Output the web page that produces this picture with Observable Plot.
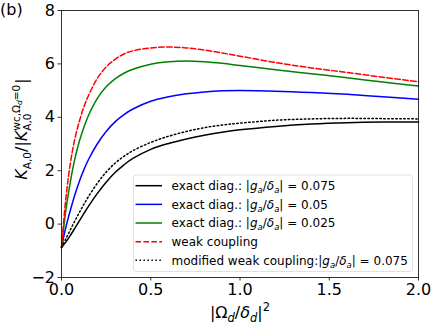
<!DOCTYPE html>
<html><head><meta charset="utf-8">
<script src="https://cdn.jsdelivr.net/npm/d3@7"></script>
<script src="https://cdn.jsdelivr.net/npm/@observablehq/plot@0.6"></script>
<style>body{margin:0;background:#fff;} svg{display:block;}</style>
</head><body><div id="chart"></div>
<script>
const xs = [0, 0.025, 0.05, 0.075, 0.1, 0.125, 0.15, 0.2, 0.25, 0.3, 0.35, 0.4, 0.5, 0.6, 0.7, 0.8, 0.9, 1.0, 1.2, 1.4, 1.6, 1.8, 2.0];
const exact075 = [-0.88, -0.665, -0.417, -0.152, 0.12, 0.39, 0.653, 1.14, 1.57, 1.93, 2.22, 2.46, 2.80, 3.02, 3.19, 3.33, 3.44, 3.53, 3.66, 3.75, 3.80, 3.82, 3.82];
const exact05 = [-0.88, -0.1, 0.53, 1.1, 1.6, 2.03, 2.4, 3.0, 3.47, 3.83, 4.1, 4.31, 4.6, 4.77, 4.88, 4.95, 4.99, 5.0, 4.98, 4.93, 4.86, 4.77, 4.68];
const exact025 = [-0.88, 0.55, 1.6, 2.45, 3.1, 3.62, 4.05, 4.7, 5.14, 5.44, 5.65, 5.8, 5.99, 6.08, 6.11, 6.08, 6.02, 5.94, 5.78, 5.63, 5.48, 5.32, 5.17];
const weak = [-0.88, 1.0, 2.3, 3.2, 3.85, 4.38, 4.8, 5.45, 5.88, 6.17, 6.37, 6.49, 6.6, 6.63, 6.6, 6.52, 6.41, 6.29, 6.05, 5.85, 5.68, 5.5, 5.33];
const modWeak = [-0.88, -0.543, -0.207, 0.121, 0.436, 0.736, 1.019, 1.524, 1.946, 2.28, 2.54, 2.75, 3.06, 3.29, 3.47, 3.61, 3.71, 3.78, 3.89, 3.94, 3.96, 3.95, 3.94];
const xTicks = [0, 0.5, 1.0, 1.5, 2.0];
const yTicks = [-2, 0, 2, 4, 6, 8];

const seriesDefs = [
  {values: exact075, color: "#000000", dash: null, label: "exact diag.: ", g: "0.075"},
  {values: exact05, color: "#0000ff", dash: null, label: "exact diag.: ", g: "0.05"},
  {values: exact025, color: "#008000", dash: null, label: "exact diag.: ", g: "0.025"},
  {values: weak, color: "#ff0000", dash: "5.55,2.4", label: "weak coupling", g: null},
  {values: modWeak, color: "#000000", dash: "1.5,2.475", label: "modified weak coupling:", g: "0.075"}
];

const marks = [];
for (const s of seriesDefs) {
  const data = xs.map((x, i) => ({x, y: s.values[i]}));
  marks.push(Plot.line(data, {x: "x", y: "y", stroke: s.color, strokeWidth: 1.5, strokeDasharray: s.dash, curve: "catmull-rom"}));
}

const chart = Plot.plot({
  width: 436, height: 325,
  marginLeft: 61, marginRight: 18, marginTop: 10, marginBottom: 48,
  style: {fontFamily: "DejaVu Sans", background: "white", color: "black", overflow: "visible"},
  x: {domain: [0, 2]},
  y: {domain: [-2, 8]},
  marks: [
    ...marks,
    Plot.frame({stroke: "black", strokeWidth: 0.8}),
    Plot.axisX({ticks: xTicks, tickFormat: d => d.toFixed(1), label: null, tickSize: 3.5, tickPadding: 3, fontSize: 16, strokeWidth: 0.8}),
    Plot.axisY({ticks: yTicks, tickFormat: d => d < 0 ? "\u2212" + Math.abs(d) : String(d), label: null, tickSize: 3.5, tickPadding: 3, fontSize: 16, strokeWidth: 0.8})
  ]
});
document.getElementById("chart").appendChild(chart);
const svg = d3.select(chart);

function rich(parent, x, y, segs, opts = {}) {
  const t = parent.append("text").attr("x", x).attr("y", y)
    .attr("font-family", "DejaVu Sans").attr("font-size", opts.size || 16).attr("fill", "black")
    .attr("text-anchor", opts.anchor || "start");
  for (const s of segs) {
    const ts = t.append("tspan").text(s.t);
    if (s.i) ts.attr("font-style", "italic");
    if (s.size) ts.attr("font-size", s.size);
    if (s.dy) ts.attr("dy", s.dy);
    if (s.dx) ts.attr("dx", s.dx);
    s.node = ts.node();
  }
  return t;
}

// (b) label
rich(svg, 0, 15, [{t: "(b)"}], {size: 16});

// x label
rich(svg, 240, 318, [
  {t: "|Ω"}, {t: "d", i: true, size: 11.5, dy: 4}, {t: "/", dy: -4}, {t: "δ", i: true},
  {t: "d", i: true, size: 11.5, dy: 4}, {t: "|", dy: -4}, {t: "2", size: 11.5, dy: -7}
], {anchor: "middle"});

// y label
const yl = svg.append("g").attr("transform", "translate(27,129) rotate(-90)");
const ysegs = [
  {t: "K", i: true}, {t: "A,0", size: 10.5, dy: 4}, {t: "/|", dy: -4}, {t: "K", i: true},
  {t: "wc,Ω", size: 10.5, dy: -7}, {t: "d", i: true, size: 7.5, dy: 2}, {t: "=0", size: 10.5, dy: -2},
  {t: "A,0", size: 10.5, dy: 11}, {t: "|", dy: -4}
];
const ytext = rich(yl, 0, 0, ysegs, {size: 16});
const supW = ysegs[4].node.getComputedTextLength() + ysegs[5].node.getComputedTextLength() + ysegs[6].node.getComputedTextLength();
const subW = ysegs[7].node.getComputedTextLength();
d3.select(ysegs[7].node).attr("dx", -supW);
d3.select(ysegs[8].node).attr("dx", Math.max(0, supW - subW) + 1);
const bb = ytext.node().getBBox();
ytext.attr("x", -bb.width / 2);

// legend
const lg = svg.append("g");
lg.append("rect").attr("x", 133.5).attr("y", 175).attr("width", 279).attr("height", 96.5)
  .attr("rx", 2.5).attr("fill", "white").attr("fill-opacity", 0.8).attr("stroke", "#d9d9d9").attr("stroke-width", 0.8);
seriesDefs.forEach((s, i) => {
  const yy = 185.7 + i * 18.65;
  lg.append("line").attr("x1", 135.5).attr("x2", 162).attr("y1", yy).attr("y2", yy)
    .attr("stroke", s.color).attr("stroke-width", 1.5).attr("stroke-dasharray", s.dash);
  const segs = [{t: s.label}];
  if (s.g) {
    segs.push({t: "|"}, {t: "g", i: true}, {t: "a", i: true, size: 8.5, dy: 3}, {t: "/", dy: -3}, {t: "δ", i: true},
      {t: "a", i: true, size: 8.5, dy: 3}, {t: "| = " + s.g, dy: -3});
  }
  rich(lg, 171.5, yy + 4.3, segs, {size: 12});
});
</script></body></html>
